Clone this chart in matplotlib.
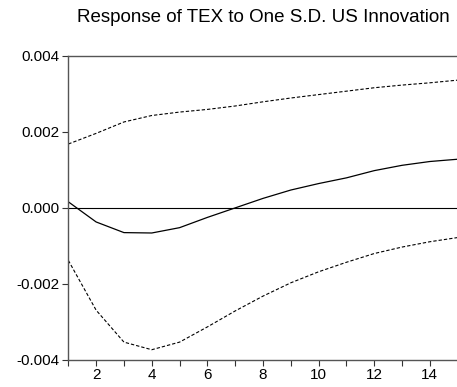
import numpy as np
import matplotlib.pyplot as plt

plt.rcParams['font.family'] = ['Liberation Sans', 'DejaVu Sans']

# impulse response of TEX to a one s.d. US shock, with +/- 2 s.e. bands
periods = list(range(1, 16))
response = [0.00016, -0.00037, -0.00065, -0.00066, -0.00052, -0.00025, 0.0,
            0.00025, 0.00047, 0.00064, 0.00079, 0.00098, 0.00112, 0.00122, 0.00128]
upper = [0.00168, 0.00196, 0.00226, 0.00243, 0.00252, 0.00259, 0.00268,
         0.00279, 0.00289, 0.00298, 0.00307, 0.00316, 0.00323, 0.00329, 0.00336]
lower = [-0.00138, -0.00269, -0.00353, -0.00373, -0.00353, -0.00313, -0.00271,
         -0.00232, -0.00197, -0.00168, -0.00143, -0.0012, -0.00103, -0.00089, -0.00078]

yticks = [-0.004, -0.002, 0.0, 0.002, 0.004]
ytick_labels = ['-0.004', '-0.002', '0.000', '0.002', '0.004']

fig = plt.figure(figsize=(4.57, 3.87), dpi=100)
ax = fig.add_axes([0.1495, 0.0698, 0.852, 0.786])

ax.axhline(0, color='black', lw=0.8)
ax.plot(periods, response, color='black', lw=0.9)
ax.plot(periods, upper, color='black', lw=0.8, dashes=(3, 1.8))
ax.plot(periods, lower, color='black', lw=0.8, dashes=(3, 1.8))

ax.set_xlim(1, 15)
ax.set_ylim(-0.004, 0.004)
ax.set_xticks(range(1, 16))
ax.set_xticklabels([str(p) if p % 2 == 0 else '' for p in periods])
ax.set_yticks(yticks)
ax.set_yticklabels(ytick_labels)
ax.tick_params(axis='both', direction='out', length=4, width=0.8,
               color='#333333', labelsize=11, pad=2)

for side in ['left', 'bottom', 'top']:
    ax.spines[side].set_color('#555555')
    ax.spines[side].set_linewidth(1.0)
ax.spines['right'].set_visible(False)

ax.set_title('Response of TEX to One S.D. US Innovation', fontsize=13.5, pad=24)

fig.savefig('out.png', dpi=100)
